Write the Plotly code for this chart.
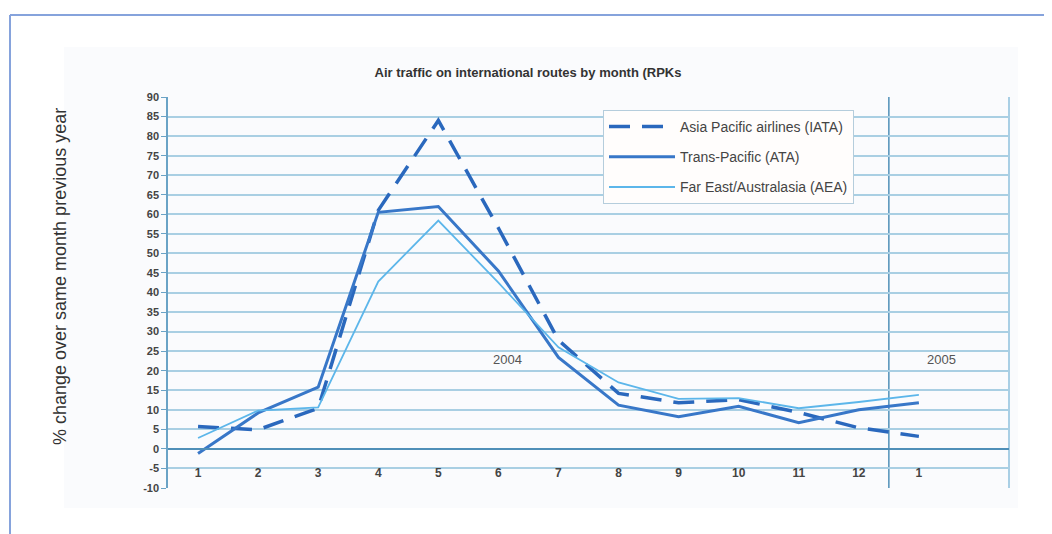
import plotly.graph_objects as go

months = ["1", "2", "3", "4", "5", "6", "7", "8", "9", "10", "11", "12", "1"]
asia_pacific_iata = [5.7, 4.9, 10.4, 61.0, 84.0, 56.5, 27.8, 14.2, 11.8, 12.6, 9.3, 5.4, 3.2]
trans_pacific_ata = [-1.2, 9.2, 15.8, 60.5, 62.0, 45.5, 23.4, 11.2, 8.2, 10.9, 6.7, 10.0, 11.8]
far_east_aea = [2.8, 9.8, 10.6, 42.8, 58.4, 42.5, 26.0, 17.0, 12.8, 13.0, 10.4, 12.0, 13.8]
y_ticks = [-10, -5, 0, 5, 10, 15, 20, 25, 30, 35, 40, 45, 50, 55, 60, 65, 70, 75, 80, 85, 90]
year_labels = ["2004", "2005"]
year_label_pos = [6.15, 13.37]
year_label_val = [22.8, 22.8]

xpos = list(range(1, len(months) + 1))

OFF = 8  # default page body margin
W, H = 1052 - OFF, 534 - OFF
L, R, T, B = 168 - OFF, 1009 - OFF, 97 - OFF, 488 - OFF


def px(x):
    # x given in page pixels
    return (x - OFF - L) / (R - L)


def py(y):
    return (B - (y - OFF)) / (B - T)


fig = go.Figure()

fig.add_trace(go.Scatter(
    x=xpos, y=asia_pacific_iata, mode="lines", name="Asia Pacific airlines (IATA)",
    line=dict(color="#2a68bd", width=3.5, dash="21px,12px"), legendgroup="a"))
fig.add_trace(go.Scatter(
    x=xpos, y=trans_pacific_ata, mode="lines", name="Trans-Pacific (ATA)",
    line=dict(color="#3877c8", width=3), legendgroup="b"))
fig.add_trace(go.Scatter(
    x=xpos, y=far_east_aea, mode="lines", name="Far East/Australasia (AEA)",
    line=dict(color="#5cb6ea", width=1.8), legendgroup="c"))

for txt, xv, yv in zip(year_labels, year_label_pos, year_label_val):
    fig.add_annotation(x=xv, y=yv, text=txt, showarrow=False, xref="x", yref="y",
                       font=dict(family="Arial", size=13, color="#555"))

shapes = [
    # outer page frame
    dict(type="line", xref="paper", yref="paper", x0=px(10), x1=px(1060), y0=py(15), y1=py(15),
         line=dict(color="#86a3dc", width=2), layer="above"),
    dict(type="line", xref="paper", yref="paper", x0=px(10), x1=px(10), y0=py(15), y1=py(540),
         line=dict(color="#86a3dc", width=2), layer="above"),
    # scanned chart background
    dict(type="rect", xref="paper", yref="paper", x0=px(64), x1=px(1018), y0=py(508), y1=py(47),
         fillcolor="#fafbfd", line=dict(width=0), layer="below"),
    # right border of plot
    dict(type="line", xref="paper", yref="paper", x0=1, x1=1, y0=0, y1=1,
         line=dict(color="#8ec0dc", width=1.5), layer="below"),
    # year separator
    dict(type="line", xref="x", yref="y", x0=12.5, x1=12.5, y0=-10, y1=91,
         line=dict(color="#4f8fb8", width=1.5), layer="below"),
]

fig.update_layout(
    width=W, height=H,
    margin=dict(l=L, r=W - R, t=T, b=H - B),
    paper_bgcolor="white",
    plot_bgcolor="#fffdfc",
    shapes=shapes,
    showlegend=True,
    legend=dict(x=px(603), y=py(110), xanchor="left", yanchor="top",
                bgcolor="#fffdfc", bordercolor="#b5cddc", borderwidth=1,
                font=dict(family="Arial", size=14, color="#444"),
                tracegroupgap=9, itemwidth=66),
    title=dict(text="Air traffic on international routes by month (RPKs",
               xref="paper", x=px(528), xanchor="center",
               yref="container", y=(H - (72 - OFF)) / H, yanchor="middle",
               font=dict(family="Arial", size=13, color="#333", weight="bold")),
    xaxis=dict(
        range=[0.5, 14.5], tickmode="array", tickvals=xpos, ticktext=months,
        showgrid=False, zeroline=False, anchor="free", position=0.1,
        showline=True, linecolor="#4f8fb8", linewidth=2,
        ticks="outside", ticklen=13, tickcolor="rgba(0,0,0,0)",
        tickfont=dict(family="Arial", size=12, color="#444", weight="bold"),
    ),
    yaxis=dict(
        range=[-10, 90], tickmode="array", tickvals=y_ticks,
        ticktext=[str(v) for v in y_ticks],
        showgrid=True, gridcolor="#a9cfe3", gridwidth=1.5,
        zeroline=True, zerolinecolor="#4f8fb8", zerolinewidth=2,
        showline=True, linecolor="#6aa3c6", linewidth=1.5,
        ticks="outside", ticklen=5, tickcolor="#6aa3c6",
        tickfont=dict(family="Arial", size=11, color="#444", weight="bold"),
    ),
)

fig.add_annotation(xref="paper", yref="paper", x=px(60), y=py(277),
                   xanchor="center", yanchor="middle",
                   text="% change over same month previous year", textangle=-90,
                   showarrow=False, font=dict(family="Arial", size=18, color="#333"))

fig.write_html("out.html")
